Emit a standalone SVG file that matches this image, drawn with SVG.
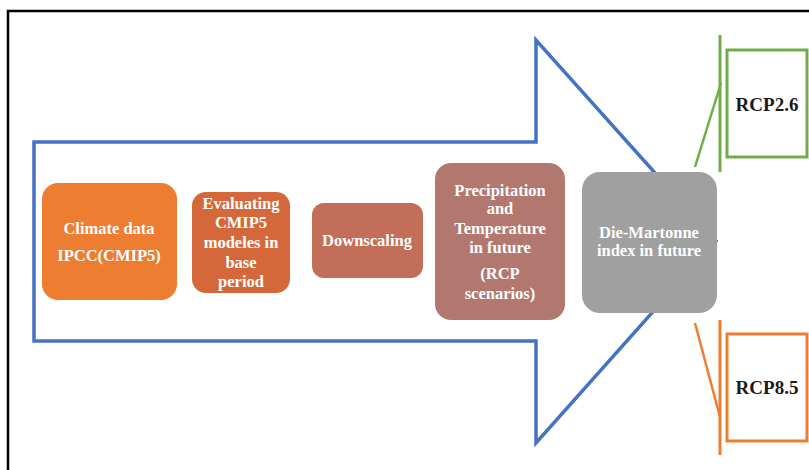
<svg xmlns="http://www.w3.org/2000/svg" width="809" height="470" viewBox="0 0 809 470">
<style>
text{font-family:'Liberation Serif','DejaVu Serif',serif;font-weight:bold;text-anchor:middle}
.t{font-size:16.5px;fill:#fff}
.k{font-size:19px;fill:#1a1a1a}
</style>
<rect width="809" height="470" fill="#fff"/>
<path d="M8,480 V11 H820" fill="none" stroke="#000" stroke-width="2.5"/>
<g id="arrow">
<path d="M34,142 H536 V40 L716,241 L536,443 V341 H34 Z" fill="none" stroke="#4472C4" stroke-width="3.5" stroke-linejoin="miter"/>
</g>
<g id="connectors">
<line x1="720" y1="35" x2="720" y2="172" stroke="#70AD47" stroke-width="3"/>
<line x1="695" y1="167" x2="721" y2="83" stroke="#70AD47" stroke-width="2.5"/>
<line x1="720" y1="320" x2="720" y2="455" stroke="#ED7D31" stroke-width="3"/>
<line x1="695" y1="323" x2="720" y2="417" stroke="#ED7D31" stroke-width="2.5"/>
</g>
<g id="n1">
<rect x="42" y="183" width="135" height="117" rx="16" fill="#ED7D31"/>
<text class="t" x="109" y="234" font-size="18">Climate data</text>
<text class="t" x="109" y="261" font-size="18">IPCC(CMIP5)</text>
</g>
<g id="n2">
<rect x="192" y="192" width="98" height="101" rx="14" fill="#D5683A"/>
<text class="t" x="241" y="209">Evaluating</text>
<text class="t" x="241" y="228">CMIP5</text>
<text class="t" x="241" y="248">modeles in</text>
<text class="t" x="241" y="268">base</text>
<text class="t" x="241" y="287">period</text>
</g>
<g id="n3">
<rect x="312" y="203" width="111" height="75" rx="12" fill="#C26E58"/>
<text class="t" x="367" y="246">Downscaling</text>
</g>
<g id="n4">
<rect x="435" y="163" width="130" height="157" rx="16" fill="#B27870"/>
<text class="t" x="500" y="196">Precipitation</text>
<text class="t" x="500" y="214">and</text>
<text class="t" x="500" y="234">Temperature</text>
<text class="t" x="500" y="253">in future</text>
<text class="t" x="500" y="279">(RCP</text>
<text class="t" x="500" y="299">scenarios)</text>
</g>
<g id="n5">
<rect x="582" y="172" width="135" height="141" rx="18" fill="#A0A0A0"/>
<text class="t" x="649" y="238">Die-Martonne</text>
<text class="t" x="649" y="256">index in future</text>
</g>
<g id="rcp26">
<rect x="727" y="50" width="80" height="107" fill="#fff" stroke="#70AD47" stroke-width="3"/>
<text class="k" x="767" y="111">RCP2.6</text>
</g>
<g id="rcp85">
<rect x="727" y="334" width="80" height="107" fill="#fff" stroke="#ED7D31" stroke-width="3"/>
<text class="k" x="767" y="394">RCP8.5</text>
</g>
</svg>
